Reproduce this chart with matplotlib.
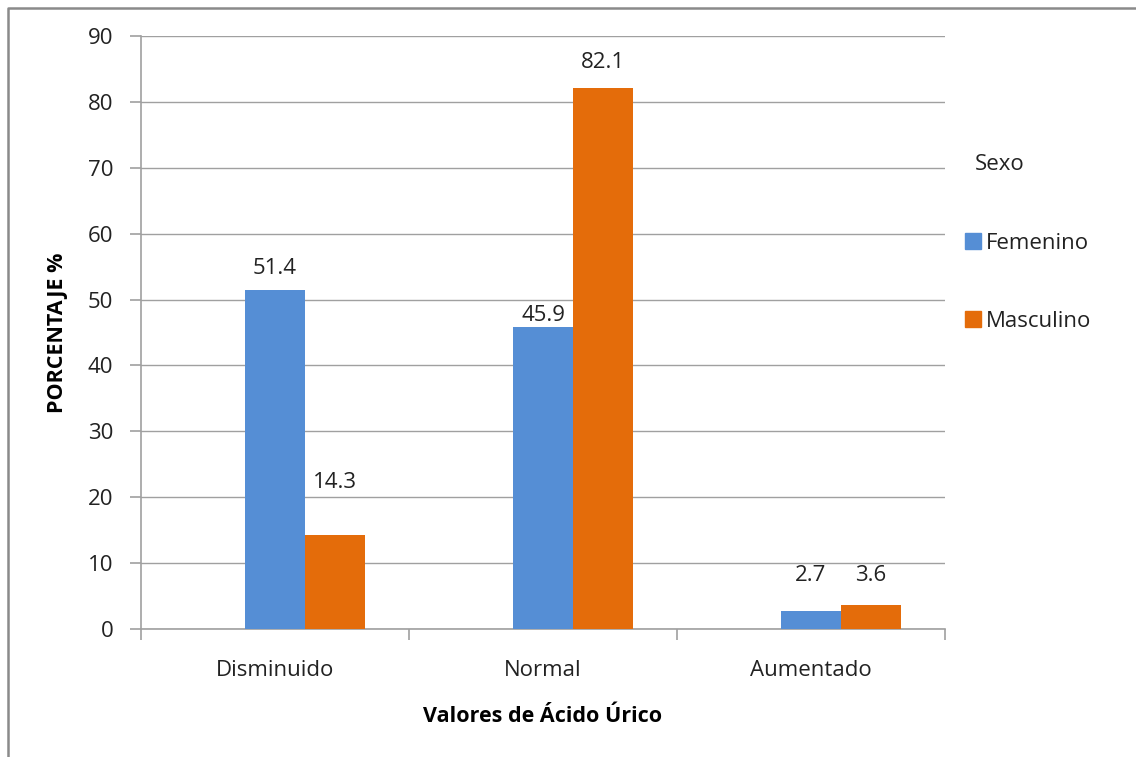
import matplotlib
matplotlib.use("Agg")
import matplotlib.pyplot as plt
from matplotlib.lines import Line2D
from matplotlib.patches import Patch
import numpy as np

categories = ["Disminuido", "Normal", "Aumentado"]
series_names = ["Femenino", "Masculino"]
femenino = [51.4, 45.9, 2.7]
masculino = [14.3, 82.1, 3.6]
yticks = [0, 10, 20, 30, 40, 50, 60, 70, 80, 90]

colors = ["#558ED5", "#E46C0A"]
# label offsets above bar tops (pixels) - styling only
fem_off = [22, 11, 36]
mas_off = [52, 26, 30]

plt.rcParams['font.family'] = ['Open Sans', 'DejaVu Sans']
FS = 16

fig = plt.figure(figsize=(11.36, 7.57), dpi=100)
ax = fig.add_axes([141/1136, 1-629/757, (945-141)/1136, (629-36)/757])

x = np.arange(len(categories))
w = 60/268
ax.bar(x, femenino, width=w, color=colors[0], label=series_names[0], zorder=3)
ax.bar(x + w, masculino, width=w, color=colors[1], label=series_names[1], zorder=3)

for xi, v, o in zip(x, femenino, fem_off):
    ax.annotate(f"{v}", (xi, v), xytext=(0, o), textcoords='offset pixels',
                ha='center', va='center', fontsize=FS, color='#222222')
for xi, v, o in zip(x + w, masculino, mas_off):
    ax.annotate(f"{v}", (xi, v), xytext=(0, o), textcoords='offset pixels',
                ha='center', va='center', fontsize=FS, color='#222222')

ax.set_xlim(-0.5, 2.5)
ax.set_ylim(0, 90)
ax.set_yticks(yticks)
ax.set_yticklabels([str(t) for t in yticks], fontsize=FS, color='#222222')
ax.yaxis.grid(True, color='#a0a0a0', linewidth=1.0, zorder=0)
ax.set_axisbelow(True)

ax.set_xticks([-0.5, 0.5, 1.5, 2.5])
ax.set_xticklabels([])
ax.set_xticks(x, minor=True)
ax.set_xticklabels(categories, minor=True, fontsize=FS, color='#222222')
ax.tick_params(axis='x', which='minor', length=0, pad=22)
ax.tick_params(axis='x', which='major', length=8, color='#a0a0a0', width=1.2)
ax.tick_params(axis='y', length=8, color='#a0a0a0', width=1.2, pad=12)

for s in ['top', 'right']:
    ax.spines[s].set_visible(False)
for s in ['left', 'bottom']:
    ax.spines[s].set_color('#a0a0a0')
    ax.spines[s].set_linewidth(1.2)

ax.set_ylabel("PORCENTAJE %", fontsize=15.5, fontweight='bold', labelpad=14)
ax.set_xlabel("Valores de Ácido Úrico", fontsize=15.5, fontweight='bold', labelpad=18)

fig.text(975/1136, 1-165/757, "Sexo", fontsize=FS, va='center', ha='left', color='#222222')
handles = [Patch(color=colors[0]), Patch(color=colors[1])]
leg = fig.legend(handles, series_names, loc='upper left',
                 bbox_to_anchor=(945/1136, 1-213/757), frameon=False,
                 fontsize=FS, handlelength=0.7, handleheight=0.7,
                 handletextpad=0.22, labelspacing=2.55)
for t in leg.get_texts():
    t.set_color('#222222')

# chart area border (left and top)
bx = 8/1136
by = 1-8/757
fig.add_artist(Line2D([bx, bx, 1.0], [0, by, by], transform=fig.transFigure,
                      color='#8a8a8a', linewidth=1.8))

fig.savefig("out.png", dpi=100)
